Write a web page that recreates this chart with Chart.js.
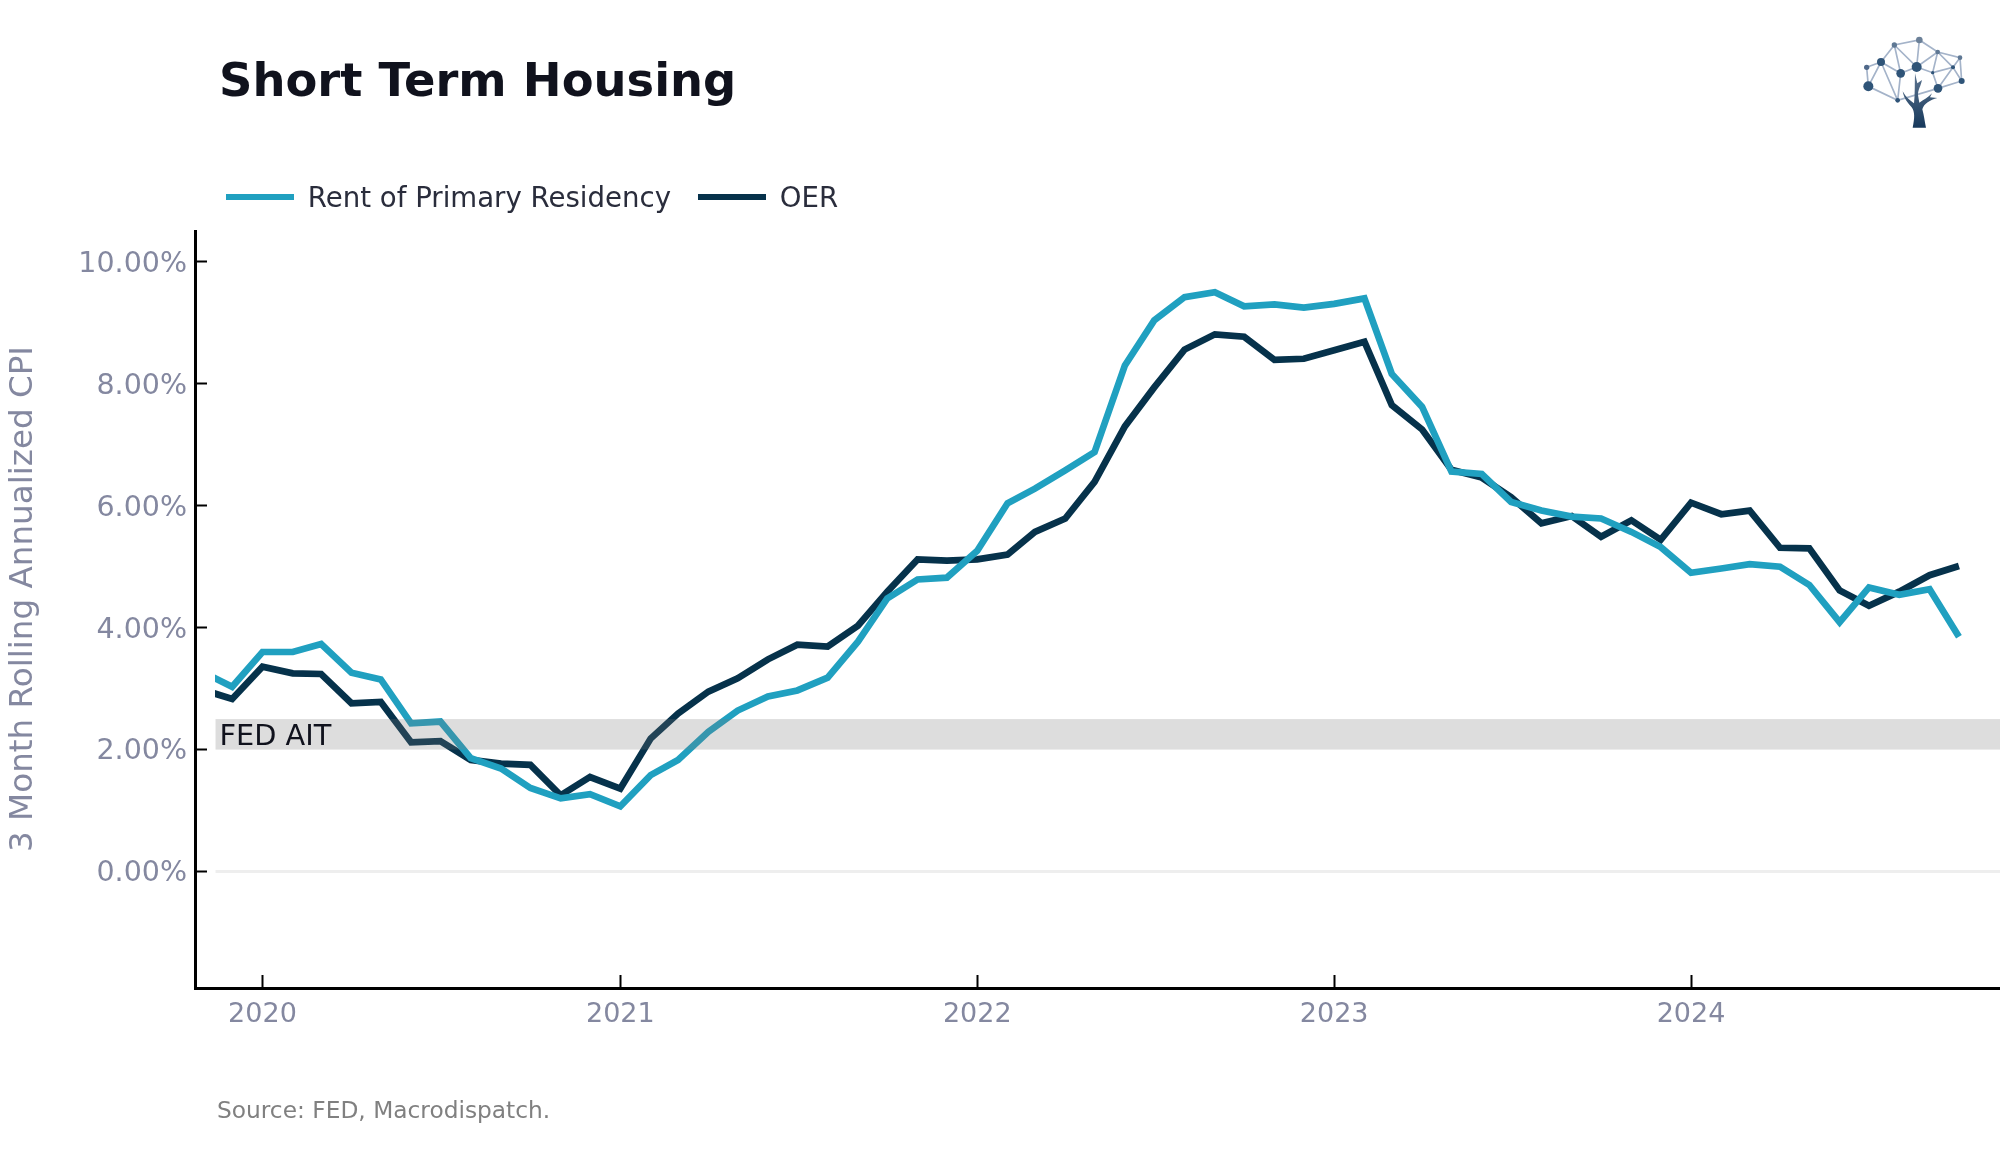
<!DOCTYPE html>
<html><head><meta charset="utf-8">
<script src="https://cdn.jsdelivr.net/npm/chart.js@4"></script>
<style>
html,body{margin:0;padding:0;background:#fff;width:2000px;height:1153px;overflow:hidden;position:relative}
canvas{position:absolute;left:0;top:0}
.t{position:absolute;font-family:"DejaVu Sans";white-space:nowrap}
#title{left:219px;top:50px;font-size:46.4px;font-weight:700;color:#10121d;line-height:60px}
#source{left:217px;top:1095px;font-size:23.3px;color:#808080;line-height:30px}
#logo{position:absolute;left:1800px;top:20px;width:200px;height:130px}
</style></head><body>
<canvas id="c" width="2000" height="1153"></canvas>
<div class="t" id="title">Short Term Housing</div>
<div class="t" id="source">Source: FED, Macrodispatch.</div>
<svg id="logo" viewBox="0 0 600 390">
<defs><linearGradient id="g" x1="0" y1="0" x2="0" y2="1"><stop offset="0" stop-color="#5d7590"/><stop offset="1" stop-color="#17395c"/></linearGradient></defs>
<g stroke="#a4b3c9" stroke-width="5" fill="none">
<path d="M200 142L243 126L283 75L358 60L413 96L480 113L485 183L414 205L293 241L205 199L200 142M205 199L243 126L302 160L350 141L283 75L302 160L293 241M243 126L293 241M358 60L350 141L413 96L398 158L350 141M398 158L459 142L480 113M459 142L485 183M459 142L413 96M459 142L414 205M398 158L414 205"/>
</g>
<g fill="#2f5478">
<circle cx="200" cy="142" r="8" fill="#50698a"/><circle cx="243" cy="126" r="12"/><circle cx="205" cy="199" r="15"/><circle cx="283" cy="75" r="8" fill="#5f7894"/><circle cx="358" cy="60" r="10" fill="#6b8098"/><circle cx="302" cy="160" r="13"/><circle cx="350" cy="141" r="15"/><circle cx="413" cy="96" r="7" fill="#5f7894"/><circle cx="480" cy="113" r="7" fill="#5f7894"/><circle cx="398" cy="158" r="5"/><circle cx="459" cy="142" r="6"/><circle cx="485" cy="183" r="9"/><circle cx="414" cy="205" r="13"/><circle cx="293" cy="241" r="7"/>
</g>
<path fill="url(#g)" d="M338 323C344 295 345 275 335 262C325 250 312 238 308 214C318 232 328 240 342 250C345 225 344 195 345 160L352 190L366 180C362 200 354 208 354 225L358 248C370 240 385 232 396 220L390 232L412 234C390 240 372 250 367 268C372 285 374 305 378 323Z"/>
</svg>
<script>
const categories=["2019-11","2019-12",
"2020-01","2020-02","2020-03","2020-04","2020-05","2020-06","2020-07","2020-08","2020-09","2020-10","2020-11","2020-12",
"2021-01","2021-02","2021-03","2021-04","2021-05","2021-06","2021-07","2021-08","2021-09","2021-10","2021-11","2021-12",
"2022-01","2022-02","2022-03","2022-04","2022-05","2022-06","2022-07","2022-08","2022-09","2022-10","2022-11","2022-12",
"2023-01","2023-02","2023-03","2023-04","2023-05","2023-06","2023-07","2023-08","2023-09","2023-10","2023-11","2023-12",
"2024-01","2024-02","2024-03","2024-04","2024-05","2024-06","2024-07","2024-08","2024-09","2024-10"];
const rentValues=[3.27,3.03,
3.60,3.60,3.73,3.26,3.15,2.43,2.46,1.86,1.69,1.37,1.20,1.27,
1.07,1.58,1.83,2.29,2.64,2.87,2.97,3.18,3.77,4.48,4.79,4.82,
5.26,6.04,6.28,6.58,6.88,8.30,9.04,9.42,9.50,9.27,9.30,9.25,
9.31,9.40,8.16,7.62,6.56,6.52,6.06,5.92,5.82,5.79,5.57,5.32,
4.90,4.97,5.04,5.00,4.70,4.09,4.66,4.54,4.63,3.85];
const oerValues=[2.98,2.83,
3.36,3.25,3.24,2.76,2.78,2.12,2.14,1.83,1.77,1.75,1.25,1.55,
1.36,2.18,2.59,2.95,3.17,3.48,3.72,3.69,4.03,4.59,5.12,5.10,
5.12,5.20,5.57,5.79,6.39,7.30,7.94,8.56,8.81,8.77,8.39,8.41,
8.55,8.69,7.65,7.25,6.59,6.46,6.14,5.71,5.83,5.49,5.76,5.44,
6.05,5.86,5.92,5.31,5.30,4.61,4.36,4.59,4.86,5.01];
const seriesNames=["Rent of Primary Residency","OER"];
const yTickValues=[0,2,4,6,8,10];
const yearLabels=["2020","2021","2022","2023","2024"];
const yAxisTitle="3 Month Rolling Annualized CPI";
const bandLabel="FED AIT";
const bandLow=2,bandHigh=2.5;

const utc=s=>{const p=s.split('-').map(Number);return Date.UTC(p[0],p[1]-1,p[2]||1)};
const pts=v=>v.map((y,i)=>({x:utc(categories[i]),y}));
const FONT='"DejaVu Sans"';
const TICK='#8488a0';
const plotStart=utc("2019-11-14");
const LEGEND_SIZE=27.6,LEGEND_PAD=27,SWATCH_W=68;

const overlay={
 id:'overlay',
 beforeDatasetsDraw(ch){
  const c=ch.ctx,{x,y}=ch.scales,l=x.getPixelForValue(plotStart);
  c.save();c.strokeStyle='#eeeeee';c.lineWidth=3;
  c.beginPath();c.moveTo(l,y.getPixelForValue(0));c.lineTo(ch.chartArea.right,y.getPixelForValue(0));c.stroke();
  c.restore();
 },
 afterDatasetsDraw(ch){
  const c=ch.ctx,{x,y}=ch.scales,l=x.getPixelForValue(plotStart);
  const t=y.getPixelForValue(bandHigh),b=y.getPixelForValue(bandLow);
  c.save();
  c.fillStyle='rgba(120,120,120,0.25)';
  c.fillRect(l,t,ch.chartArea.right-l,b-t);
  c.fillStyle='#10121d';c.font='28.8px '+FONT;c.textBaseline='middle';c.textAlign='left';
  c.fillText(bandLabel,l+4,(t+b)/2+3);
  c.save();
  c.translate(23.5,599);c.rotate(-Math.PI/2);
  c.fillStyle=TICK;c.font='32.6px '+FONT;c.textAlign='center';
  c.fillText(yAxisTitle,0,0);
  c.restore();
  // legend swatches: the library's box sits above the text line here, so they are drawn on the legend row
  c.font=LEGEND_SIZE+'px '+FONT;
  let sx=ch.legend.left+LEGEND_PAD;
  ch.data.datasets.forEach(d=>{
   c.fillStyle=d.borderColor;
   c.fillRect(sx,194,SWATCH_W,6);
   sx+=SWATCH_W+LEGEND_SIZE/2+c.measureText(d.label).width+LEGEND_PAD;
  });
  c.restore();
 },
 afterLayout(ch){ ch.legend.top-=8; ch.legend.left+=4; }
};

new Chart(document.getElementById('c'),{
 type:'line',
 data:{datasets:[
  {label:seriesNames[0],data:pts(rentValues),borderColor:'#20a0c0',backgroundColor:'#20a0c0',borderWidth:6.7,pointRadius:0,tension:0,borderJoinStyle:'miter',borderCapStyle:'butt',clip:{left:-20,top:false,right:false,bottom:false}},
  {label:seriesNames[1],data:pts(oerValues),borderColor:'#06324b',backgroundColor:'#06324b',borderWidth:6.7,pointRadius:0,tension:0,borderJoinStyle:'miter',borderCapStyle:'butt',clip:{left:-20,top:false,right:false,bottom:false}}
 ]},
 plugins:[overlay],
 options:{
  responsive:false,animation:false,
  layout:{padding:{top:167.3,left:0,right:0,bottom:0}},
  plugins:{
   tooltip:{enabled:false},
   legend:{display:true,position:'top',align:'start',fullSize:false,
    labels:{boxWidth:SWATCH_W,boxHeight:6,padding:LEGEND_PAD,color:'#2a2d3c',font:{family:FONT,size:LEGEND_SIZE,lineHeight:1.4},
     generateLabels:ch=>Chart.defaults.plugins.legend.labels.generateLabels(ch).map(i=>({...i,lineWidth:0,fillStyle:'rgba(0,0,0,0)'}))}}
  },
  scales:{
   x:{type:'linear',min:utc("2019-10-24"),max:utc("2024-11-12"),
    afterBuildTicks:s=>{s.ticks=yearLabels.map(v=>({value:utc(v+"-01-01")}))},
    afterFit:s=>{s.height=165},
    grid:{display:true,drawOnChartArea:false,drawTicks:true,tickLength:-13,tickColor:'#000',tickWidth:2},
    border:{display:true,color:'#000',width:3},
    ticks:{color:TICK,font:{family:FONT,size:27},padding:24,maxRotation:0,autoSkip:false,
     callback:v=>String(new Date(v).getUTCFullYear())}
   },
   y:{type:'linear',min:-1.91,max:10.49,
    afterBuildTicks:s=>{s.ticks=yTickValues.map(value=>({value}))},
    afterFit:s=>{s.width=195},
    grid:{display:true,drawOnChartArea:false,drawTicks:true,tickLength:-12,tickColor:'#000',tickWidth:2},
    border:{display:true,color:'#000',width:3},
    ticks:{color:TICK,font:{family:FONT,size:28.5},padding:20,labelOffset:2.5,autoSkip:false,
     callback:v=>v.toFixed(2)+'%'}
   }
  }
 }
});
</script>
</body></html>
